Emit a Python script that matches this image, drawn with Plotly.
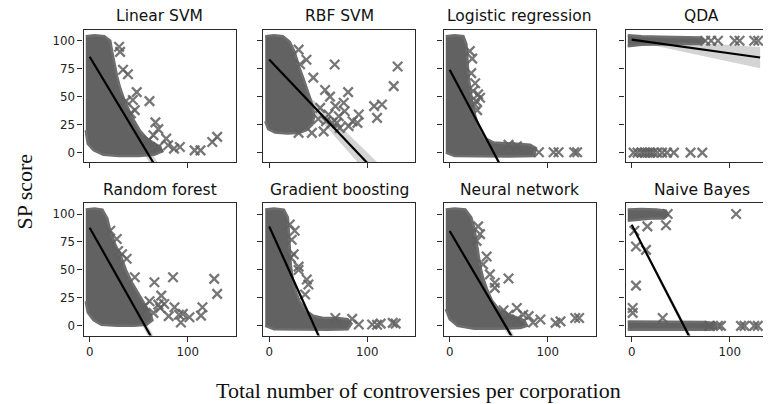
import plotly.graph_objects as go

# ---------------- data ----------------
titles = ["Linear SVM", "RBF SVM", "Logistic regression", "QDA",
          "Random forest", "Gradient boosting", "Neural network", "Naive Bayes"]
x_ticks = [0, 100]
y_ticks = [0, 25, 50, 75, 100]

# dense point clouds (outline of the overlapping markers)
lin_blob_x = [-4, 5, 15, 21, 23, 25, 28, 31, 35, 40, 45, 51, 58, 66, 72, 74, 66, 50, 30, 14, 4, -2, -4]
lin_blob_y = [104, 105, 104, 100, 90, 80, 68, 58, 48, 38, 29, 20, 13, 8, 5, 1, -2, -3, -3, -2, 2, 8, 20]
rbf_blob_x = [-4, 5, 14, 21, 26, 30, 35, 40, 44, 46, 44, 38, 30, 18, 6, -1, -4]
rbf_blob_y = [104, 105, 104, 99, 90, 78, 66, 54, 43, 33, 25, 20, 17.5, 17, 18, 21, 28]
log_blob_x = [-4, 5, 14, 17, 18, 19, 21, 23, 26, 30, 36, 45, 65, 82, 88, 86, 60, 30, 5, -4]
log_blob_y = [104, 105, 104, 97, 85, 70, 57, 45, 33, 22, 13, 9, 8, 7, 4, -3, -3.5, -3.5, -3, 0]
qda_blob_x = [-4, 10, 30, 50, 70, 74, 70, 50, 30, 10, -4]
qda_blob_y = [105, 104, 103.5, 103, 103, 100, 97, 97, 97, 96.5, 95]
rf_blob_x = [-4, 5, 13, 18, 21, 26, 32, 37, 43, 50, 57, 62, 64, 58, 45, 28, 12, 4, -2, -4]
rf_blob_y = [104, 105, 104, 96, 85, 73, 62, 50, 39, 28, 18, 11, 5, 1, 0, 0, 1, 5, 12, 22]
gb_blob_x = [-4, 5, 15, 19, 20, 21, 22, 24, 27, 31, 37, 45, 55, 70, 80, 84, 80, 60, 30, 5, -4]
gb_blob_y = [104, 105, 104, 97, 85, 70, 55, 42, 31, 22, 14, 9, 7, 7, 6, 2, -3, -3.5, -3.5, -3, 0]
nn_blob_x = [-4, 5, 16, 22, 25, 27, 29, 31, 34, 38, 43, 49, 57, 67, 76, 79, 72, 50, 25, 8, 0, -4]
nn_blob_y = [104, 105, 104, 97, 88, 78, 66, 54, 43, 33, 23, 16, 11, 8, 5, 0, -2, -2.5, -2.5, 0, 6, 15]
nb_blob_x = [-4, 10, 25, 35, 37, 33, 20, 5, -4, None,
             -4, 20, 50, 75, 85, 86, 80, 50, 20, -4]
nb_blob_y = [104, 104.5, 104, 103, 99, 96, 96, 95, 94, None,
             4, 4, 3.5, 3.5, 2.5, -2, -3.5, -3.5, -3.5, -3.5]

# isolated markers
lin_pts_x = [30, 31, 34, 39, 48, 44, 46, 61, 67, 70, 65, 78, 80, 92, 107, 113, 125, 130, 60, 70, 86, 37, 42]
lin_pts_y = [94.6, 90, 74, 70, 54, 47, 38, 46, 27, 21, 15.5, 12.5, 6.5, 5, 2, 2, 9.5, 14, 11, 5, 3.5, 46, 35]
rbf_pts_x = [30, 38, 31.5, 66.8, 45, 57, 80.5, 62, 67.5, 76, 77, 60.6, 91.4, 107, 115, 110, 127, 131,
             90, 81, 43.5, 30, 55.5, 69, 71, 64, 52, 50, 58, 72, 85]
rbf_pts_y = [92, 83, 79, 78.8, 67, 56, 54, 50, 41.5, 44.5, 37, 34, 34, 41.5, 43, 31, 59.4, 77,
             26.5, 23.6, 17.6, 17.6, 19, 26.5, 32.5, 26.5, 40, 30, 28, 22, 28]
log_pts_x = [20.5, 22, 24, 29, 27, 31, 25.7, 60, 68.5, 91, 106, 111, 127, 130, 23, 26, 28]
log_pts_y = [90.7, 71, 55, 52, 46, 49, 43, 7, 5.7, 0.3, 0.3, 0.3, 0.3, 0.3, 84, 62, 38]
qda_pts_x = [75, 81, 88, 105, 110, 125, 129,
             2, 6, 10, 13, 16, 19, 22, 26, 31, 36, 43, 60, 72]
qda_pts_y = [100, 100, 100, 100, 100, 100, 100,
             0, 0, 0, 0, 0, 0, 0, 0, 0, 0, 0, 0, 0]
rf_pts_x = [21, 27.6, 29, 37.7, 46, 66, 85, 73, 76, 86.5, 95, 101.7, 115, 113.5, 127, 130,
            93, 61, 72, 80.6, 91, 56, 53, 65, 70, 33]
rf_pts_y = [85, 77.7, 67, 60, 43.5, 39, 43.5, 27, 19.6, 16.7, 10.7, 7.7, 16.7, 9.2, 42, 28.6,
            3, 22, 16, 8.7, 10, 17.6, 10, 11.6, 19, 64]
gb_pts_x = [21, 26, 23, 25, 22, 30, 30, 38.4, 40, 36.6, 67.5, 84.6, 91.4, 105, 113.7, 129, 126, 110]
gb_pts_y = [90.7, 85, 77, 64, 61, 53, 50, 41.5, 37, 28, 7, 6.3, 1.2, 1.2, 2, 2, 2.7, 1]
nn_pts_x = [29, 31, 27.4, 37.7, 34, 41, 46, 60, 46, 68.5, 75, 80.5, 92.5, 108, 113, 128, 132, 60, 68.5, 85, 55]
nn_pts_y = [89, 82, 76, 62, 55, 46, 38.5, 42.4, 34, 16, 10, 8.7, 5.7, 2.7, 4, 7, 7, 10, 5.7, 3, 14]
nb_pts_x = [36.7, 16, 35, 2.7, 4.4, 14.6, 4.4, 1, 1, 31.6, 106.5, 91, 111.5, 115, 125, 128.6, 88, 79]
nb_pts_y = [100, 89, 90, 85, 71, 68, 36, 16, 11.6, 7, 100, 0, 0, 0, 0, 0, 0, 0]

# regression lines (end points) and confidence bands
lin_fit_x, lin_fit_y = [0, 75], [85.7, -23.8]
rbf_fit_x, rbf_fit_y = [0, 110], [83.3, -18.5]
log_fit_x, log_fit_y = [0, 60], [74, -25]
qda_fit_x, qda_fit_y = [0, 131], [101, 85]
rf_fit_x, rf_fit_y = [0, 70], [87.8, -21.1]
gb_fit_x, gb_fit_y = [0, 60], [89, -27.4]
nn_fit_x, nn_fit_y = [0, 70], [84.8, -19.5]
nb_fit_x, nb_fit_y = [0, 65], [90.5, -20]

lin_band_hi, lin_band_lo = [87.2, -16.8], [84.2, -30.8]
rbf_band_hi, rbf_band_lo = [85.3, -8.5], [81.3, -28.5]
log_band_hi, log_band_lo = [75, -22], [73, -28]
qda_band_hi, qda_band_lo = [102, 94.5], [100, 75.5]
rf_band_hi, rf_band_lo = [89.3, -16.1], [86.3, -26.1]
gb_band_hi, gb_band_lo = [90, -23.4], [88, -31.4]
nn_band_hi, nn_band_lo = [86.3, -14.5], [83.3, -24.5]
nb_band_hi, nb_band_lo = [91.5, -16], [89.5, -24]

panels = [
    (lin_blob_x, lin_blob_y, lin_pts_x, lin_pts_y, lin_fit_x, lin_fit_y, lin_band_hi, lin_band_lo),
    (rbf_blob_x, rbf_blob_y, rbf_pts_x, rbf_pts_y, rbf_fit_x, rbf_fit_y, rbf_band_hi, rbf_band_lo),
    (log_blob_x, log_blob_y, log_pts_x, log_pts_y, log_fit_x, log_fit_y, log_band_hi, log_band_lo),
    (qda_blob_x, qda_blob_y, qda_pts_x, qda_pts_y, qda_fit_x, qda_fit_y, qda_band_hi, qda_band_lo),
    (rf_blob_x, rf_blob_y, rf_pts_x, rf_pts_y, rf_fit_x, rf_fit_y, rf_band_hi, rf_band_lo),
    (gb_blob_x, gb_blob_y, gb_pts_x, gb_pts_y, gb_fit_x, gb_fit_y, gb_band_hi, gb_band_lo),
    (nn_blob_x, nn_blob_y, nn_pts_x, nn_pts_y, nn_fit_x, nn_fit_y, nn_band_hi, nn_band_lo),
    (nb_blob_x, nb_blob_y, nb_pts_x, nb_pts_y, nb_fit_x, nb_fit_y, nb_band_hi, nb_band_lo),
]

# ---------------- layout geometry (screen pixels) ----------------
OFF = 8                      # default page margin of the html body
W, H = 771 - OFF, 404 - OFF  # figure size so that it fills the window
col_left = [83.5, 263, 443.5, 625.5]
panel_w = 152
row_top = [30, 203.3]
panel_h = 132.3
x_lo, x_hi = -6.3, 148.7
y_range = [-8.7, 109.6]
px_per_x = panel_w / (x_hi - x_lo)


def fx_(p):
    return (p - OFF) / W


def fy_(p):
    return 1 - (p - OFF) / H


BLOB = "#626262"
PTS = "rgba(95,95,95,0.85)"
BAND = "#d4d4d4"
AX = "#2a2a2a"
sans = "DejaVu Sans"

fig = go.Figure()
layout = dict(width=W, height=H, margin=dict(l=0, r=0, t=0, b=0),
              paper_bgcolor="white", plot_bgcolor="white", showlegend=False)
annotations = []

for i, (bx, by, px, py, fx, fy, bh, bl) in enumerate(panels):
    r, c = divmod(i, 4)
    k = "" if i == 0 else str(i + 1)
    xa, ya = "x" + k, "y" + k
    left = col_left[c]
    right = min(left + panel_w, 771)
    xr = [x_lo, x_lo + (right - left) / px_per_x]
    top = row_top[r]
    bottom = top + panel_h

    fig.add_trace(go.Scatter(x=fx + fx[::-1], y=bh + bl[::-1], fill="toself",
                             fillcolor=BAND, line=dict(width=0), mode="lines",
                             hoverinfo="skip", xaxis=xa, yaxis=ya))
    fig.add_trace(go.Scatter(x=bx, y=by, fill="toself", fillcolor=BLOB,
                             line=dict(color="#6e6e6e", width=2.5),
                             mode="lines", xaxis=xa, yaxis=ya))
    fig.add_trace(go.Scatter(x=px, y=py, mode="markers",
                             marker=dict(symbol="x-thin", size=9.5,
                                         line=dict(color=PTS, width=2.3)),
                             xaxis=xa, yaxis=ya))
    fig.add_trace(go.Scatter(x=fx, y=fy, mode="lines",
                             line=dict(color="black", width=2.2),
                             xaxis=xa, yaxis=ya))

    common = dict(showline=True, mirror=True, linecolor=AX, linewidth=1.1,
                  ticks="outside", ticklen=5, tickwidth=1, tickcolor=AX,
                  showgrid=False, zeroline=False,
                  tickfont=dict(family=sans, size=11.8, color="#222"))
    layout["xaxis" + k] = dict(common, domain=[fx_(left), fx_(right)], range=xr,
                               tickvals=x_ticks, showticklabels=(r == 1),
                               anchor=ya)
    layout["yaxis" + k] = dict(common, domain=[fy_(bottom), fy_(top)],
                               range=y_range, tickvals=y_ticks,
                               showticklabels=(c == 0), anchor=xa)
    annotations.append(dict(text=titles[i], x=fx_(left + panel_w / 2),
                            y=fy_(top - 13.5), xref="paper", yref="paper",
                            xanchor="center", yanchor="middle", showarrow=False,
                            font=dict(family=sans, size=15.5, color="#111")))

annotations.append(dict(text="SP score", x=fx_(9), y=fy_(192), xref="paper",
                        yref="paper", textangle=-90, showarrow=False,
                        xanchor="left", yanchor="middle",
                        font=dict(family="Liberation Serif", size=22, color="#111")))
annotations.append(dict(text="Total number of controversies per corporation",
                        x=fx_(418.5), y=fy_(390), xref="paper", yref="paper",
                        showarrow=False, xanchor="center", yanchor="middle",
                        font=dict(family="Liberation Serif", size=22, color="#111")))
layout["annotations"] = annotations
fig.update_layout(**layout)
fig.write_html("out.html")
